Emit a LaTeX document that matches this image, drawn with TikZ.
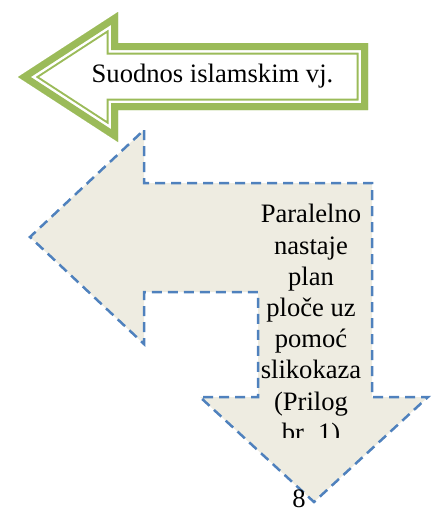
\documentclass[tikz,border=0pt]{standalone}
\usepackage{fontspec}
\setmainfont{LiberationSerif}[Extension=.ttf, UprightFont=*-Regular, BoldFont=*-Bold]
\definecolor{arrowgreen}{HTML}{9BBB59}
\definecolor{dashblue}{HTML}{4F81BD}
\definecolor{paper}{HTML}{EEECE1}
\tikzset{
  bentarrow/.style={fill=paper, draw=dashblue, line width=1.25pt, dash pattern=on 5pt off 3pt, line join=miter},
  labeltext/.style={font=\fontsize{13.3pt}{15.6pt}\selectfont, inner sep=0pt},
}

\begin{document}
\begin{tikzpicture}[x=0.5pt,y=-0.5pt]
		\useasboundingbox (0,0) rectangle (436,510);
		% TOP: green arrow pointing left, thick-thin border
		\begin{scope}
			\clip (18,77) -- (118,12) -- (118,43) -- (368,43) -- (368,110) -- (118,110) -- (118,142) -- cycle;
			\fill[white] (0,0) rectangle (436,160);
			\foreach \w/\c in {11.5pt/arrowgreen, 9.5pt/white, 7pt/arrowgreen}
				\draw[\c, line width=\w, line join=miter] (18,77) -- (118,12) -- (118,43) -- (368,43) -- (368,110) -- (118,110) -- (118,142) -- cycle;
		\end{scope}
		\node[labeltext, anchor=base] (relation) at (212.5,82) {Suodnos islamskim vj.};
		
		% BELOW: bent arrow, left and down, dashed border
		\draw[bentarrow] (144,130) -- (144,183) -- (372,183) -- (372,397) -- (428,397) -- (314,502) -- (200,397) -- (258,397) -- (258,292) -- (144,292) -- (144,344) -- (30,237) -- cycle;
		\begin{scope}
			\clip (250,190) rectangle (372,437);
			\node[labeltext, anchor=north, align=center] (plan) at (311,204) {Paralelno\\nastaje\\plan\\ploče uz\\pomoć\\slikokaza\\(Prilog\\br. 1)};
		\end{scope}
		
		\node[labeltext, anchor=base] (pagenum) at (299,507) {8};
	\end{tikzpicture}
\end{document}
